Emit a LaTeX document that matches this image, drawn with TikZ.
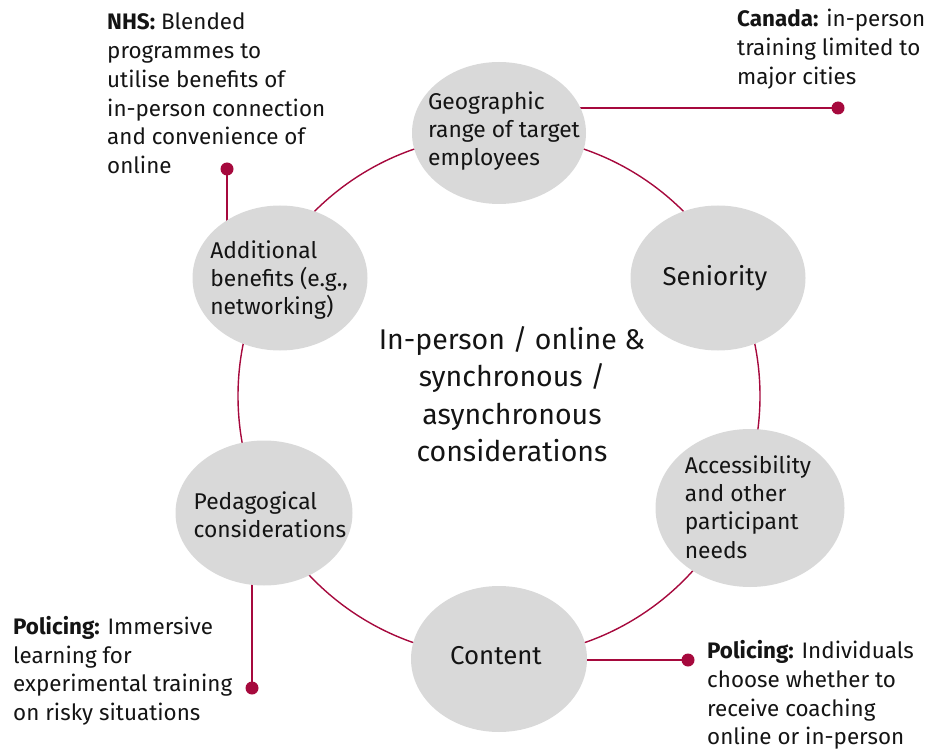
\documentclass[tikz,border=0pt]{standalone}
\usepackage{fontspec}
\setmainfont{Fira Sans}
\usetikzlibrary{shapes.geometric,backgrounds}
\definecolor{crimson}{RGB}{166,9,61}
\definecolor{bubblegrey}{RGB}{217,217,217}
\definecolor{ink}{RGB}{20,20,20}
\tikzset{
  bub/.style n args={2}{ellipse, fill=bubblegrey, inner sep=0pt,
    minimum width=#1, minimum height=#2},
  bubtext/.style={inner sep=0pt, align=left, text=ink,
    font=\fontsize{22.8}{28.3}\selectfont},
  bigword/.style={font=\fontsize{25.8}{28}\selectfont},
  note/.style={anchor=north west, inner sep=0pt, align=left, text=ink,
    font=\fontsize{22.4}{28.7}\selectfont},
  link/.style={draw=crimson, line width=1.4pt},
  dot/.style={fill=crimson},
}
\begin{document}
\begin{tikzpicture}[x=1pt,y=-1pt]
\useasboundingbox (0,0) rectangle (929,751);

% ring joining the considerations
\node[circle, draw=crimson, line width=1.4pt, minimum size=522pt, inner sep=0pt] (hub) at (499,396) {};

% considerations: grey bubbles
\node[bub={174pt}{142pt}] (geo) at (499,133) {};
\node[bub={175pt}{145pt}] (sen) at (718,278) {};
\node[bub={189pt}{158pt}] (acc) at (750,508) {};
\node[bub={176pt}{146pt}] (con) at (499,659) {};
\node[bub={177pt}{145pt}] (ped) at (264,513) {};
\node[bub={175pt}{145pt}] (add) at (280,278) {};

% considerations: labels
\node[bubtext, xshift=5pt, yshift=2pt] (geoT) at (geo) {Geographic\\range of target\\employees};
\node[bubtext, bigword, xshift=-3pt] (senT) at (sen) {Seniority};
\node[bubtext, xshift=-2pt, yshift=1pt] (accT) at (acc) {Accessibility\\and other\\participant\\needs};
\node[bubtext, bigword, xshift=-3pt, yshift=3pt] (conT) at (con) {Content};
\node[bubtext, xshift=6pt, yshift=-2pt] (pedT) at (ped) {Pedagogical\\considerations};
\node[bubtext, xshift=-1pt, yshift=-2pt] (addT) at (add) {Additional\\benefits (e.g.,\\networking)};

% central title
\node[align=center, text=ink, font=\fontsize{28.5}{37.4}\selectfont] (title) at (512,394)
  {In-person / online \&\\synchronous /\\asynchronous\\considerations};

% example notes
\node[note] (nhs) at (107,13) {\textbf{NHS:} Blended\\programmes to\\utilise benefits of\\in-person connection\\and convenience of\\online};
\node[note] (canada) at (737,9) {\textbf{Canada:} in-person\\training limited to\\major cities};
\node[note] (polL) at (13,616) {\textbf{Policing:} Immersive\\learning for\\experimental training\\on risky situations};
\node[note] (polR) at (707,640.5) {\textbf{Policing:} Individuals\\choose whether to\\receive coaching\\online or in-person};

% leader ends
\coordinate (dC) at (838,108);
\coordinate (dN) at (227,169);
\coordinate (dL) at (252,688);
\coordinate (dR) at (688,660);

\begin{pgfonlayer}{background}
  \draw[link] (geo.center |- dC) -- (dC);
  \draw[link] (dN) -- (dN |- add.center);
  \draw[link] (dL) -- (dL |- ped.center);
  \draw[link] (con.center |- dR) -- (dR);
\end{pgfonlayer}

\fill[dot] (dC) circle (6.5);
\fill[dot] (dN) circle (6.5);
\fill[dot] (dL) circle (6.5);
\fill[dot] (dR) circle (6.5);
\end{tikzpicture}
\end{document}
